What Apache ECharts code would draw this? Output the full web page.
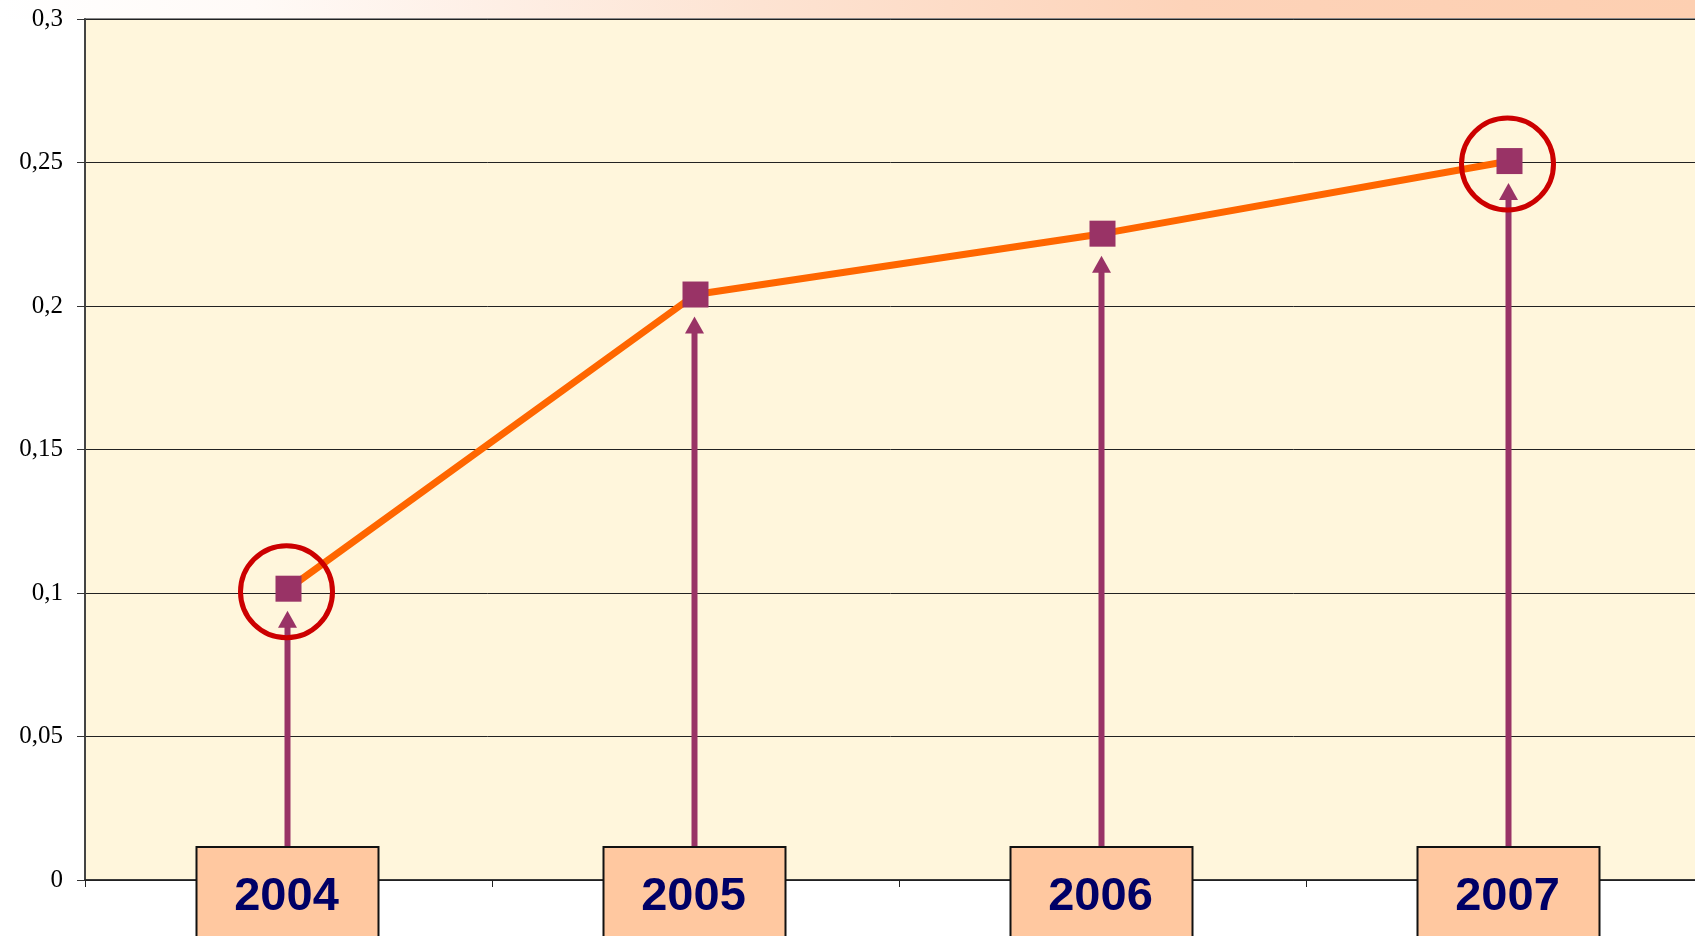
<!DOCTYPE html>
<html>
<head>
<meta charset="utf-8">
<script src="https://cdn.jsdelivr.net/npm/echarts@6/dist/echarts.min.js"></script>
<style>
html,body{margin:0;padding:0;background:#fff;}
#chart{width:1695px;height:936px;}
</style>
</head>
<body>
<div id="chart"></div>
<script>
// ---- data ----
const categories = ['2004', '2005', '2006', '2007'];
const values = [0.1015, 0.204, 0.2252, 0.2505];
const highlighted = ['2004', '2007'];
const yTickLabels = ['0', '0,05', '0,1', '0,15', '0,2', '0,25', '0,3'];

const chart = echarts.init(document.getElementById('chart'), null, {renderer: 'canvas'});

const highlightData = highlighted.map(c => [categories.indexOf(c), values[categories.indexOf(c)]]);

const option = {
  animation: false,
  backgroundColor: '#ffffff',
  graphic: [{
    type: 'rect',
    z: -10,
    shape: {x: 0, y: 0, width: 1695, height: 19},
    style: {
      fill: new echarts.graphic.LinearGradient(0, 0, 1, 0, [
        {offset: 0, color: '#ffffff'},
        {offset: 0.15, color: '#fffaf7'},
        {offset: 0.45, color: '#fde3d2'},
        {offset: 0.7, color: '#fdd3b9'},
        {offset: 1, color: '#fdcfb1'}
      ])
    }
  }],
  grid: {
    left: 85, top: 19, width: 1628, height: 861,
    outerBoundsMode: 'none',
    containLabel: false,
    show: true,
    backgroundColor: '#fff6dc',
    borderColor: '#8a8a8a',
    borderWidth: 2
  },
  xAxis: {
    type: 'category',
    data: categories,
    boundaryGap: true,
    axisLine: {show: true, lineStyle: {color: '#222', width: 1.5}},
    axisTick: {show: true, length: 7, inside: false, lineStyle: {color: '#222'}},
    axisLabel: {show: false},
    splitLine: {show: false}
  },
  yAxis: {
    type: 'value',
    min: 0, max: 0.3, interval: 0.05,
    axisLine: {show: true, lineStyle: {color: '#444', width: 2}},
    axisTick: {show: true, length: 8, lineStyle: {color: '#333'}},
    axisLabel: {
      margin: 22,
      fontFamily: 'Liberation Serif',
      fontSize: 25,
      color: '#000',
      formatter: (v) => yTickLabels[Math.round(v / 0.05)]
    },
    splitLine: {show: true, lineStyle: {color: '#222', width: 1}}
  },
  series: [
    {
      type: 'line',
      data: values,
      z: 4,
      lineStyle: {color: '#ff6600', width: 7},
      symbol: 'rect',
      symbolSize: 26,
      itemStyle: {color: '#993366', opacity: 1},
      silent: true
    },
    {
      type: 'custom',
      z: 3,
      clip: false,
      data: categories.map((c, i) => [i, values[i]]),
      renderItem: function (params, api) {
        const p = api.coord([api.value(0), api.value(1)]);
        const base = api.coord([api.value(0), 0]);
        const x = p[0] - 1;
        const boxTop = base[1] - 33;
        const tip = p[1] + 22;
        const headH = 17;
        return {
          type: 'group',
          children: [
            {type: 'rect', shape: {x: x - 3, y: tip + headH - 2, width: 6, height: boxTop - tip - headH + 2},
             style: {fill: '#993366'}},
            {type: 'polygon', shape: {points: [[x - 9.5, tip + headH], [x + 9.5, tip + headH], [x, tip]]},
             style: {fill: '#993366'}}
          ]
        };
      }
    },
    {
      type: 'custom',
      z: 10,
      clip: false,
      data: categories.map((c, i) => [i, values[i]]),
      renderItem: function (params, api) {
        const p = api.coord([api.value(0), api.value(1)]);
        const base = api.coord([api.value(0), 0]);
        const x = p[0] - 1;
        const boxTop = base[1] - 33;
        return {
          type: 'group',
          children: [
            {type: 'rect', shape: {x: x - 91, y: boxTop, width: 182, height: 140},
             style: {fill: '#ffc8a0', stroke: '#111', lineWidth: 2}},
            {type: 'text', x: x - 1, y: boxTop + 50,
             style: {text: categories[params.dataIndex], fill: '#000066',
                     font: 'bold 47px "Liberation Sans", Arial, sans-serif',
                     align: 'center', verticalAlign: 'middle'}}
          ]
        };
      }
    },
    {
      type: 'scatter',
      z: 5,
      data: highlightData,
      symbol: 'circle',
      symbolSize: 92,
      symbolOffset: [-2, 3],
      itemStyle: {color: 'rgba(0,0,0,0)', borderColor: '#cc0000', borderWidth: 5, opacity: 1},
      silent: true
    }
  ]
};
chart.setOption(option);
</script>
</body>
</html>
